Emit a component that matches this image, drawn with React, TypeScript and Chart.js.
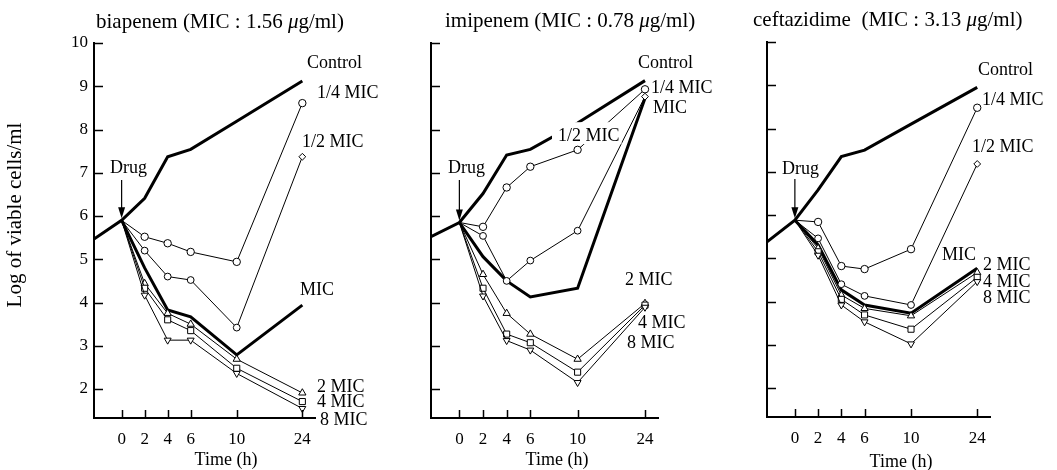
import { useEffect, useRef } from 'react';
import { Chart, registerables } from 'chart.js';
Chart.register(...registerables);

const SERIF = '"Liberation Serif", "Times New Roman", serif';

// ---- shared axis data ----
const sampleTimes = [0, 2, 4, 6, 10, 24];
const timeLabels = ['0', '2', '4', '6', '10', '24'];
const preDrugTime = -2.4;
const xMaxPos = 16.8;
const yTickValues = [2, 3, 4, 5, 6, 7, 8, 9, 10];
const yMin = 1.33;
const yMax = 10;

// axis is linear up to 10 h; the 10 -> 24 h interval is compressed
function axisPos(t: number): number {
  return t <= 10 ? t : 10 + ((t - 10) * 5.7) / 14;
}

// ---- biapenem ----
const biaControlPre = 5.47;
const biaControl = [5.9, 6.41, 7.37, 7.54, 8.19, 9.12];
const biaQuarter = [5.9, 5.52, 5.37, 5.17, 4.94, 8.61];
const biaHalf = [5.9, 5.2, 4.6, 4.52, 3.42, 7.37];
const biaMic = [5.9, 4.8, 3.83, 3.67, 2.79, 3.94];
const biaMic2 = [5.9, 4.44, 3.75, 3.5, 2.69, 1.91];
const biaMic4 = [5.9, 4.33, 3.6, 3.35, 2.48, 1.71];
const biaMic8 = [5.9, 4.17, 3.13, 3.13, 2.36, 1.55];

// ---- imipenem ----
const imiControlPre = 5.52;
const imiControl = [5.85, 6.52, 7.41, 7.54, 8.15, 9.13];
const imiQuarter = [5.85, 5.75, 6.66, 7.14, 7.53, 8.93];
const imiHalf = [5.85, 5.54, 4.5, 4.97, 5.66, 8.76];
const imiMic = [5.85, 5.06, 4.5, 4.13, 4.33, 8.72];
const imiMic2 = [5.85, 4.65, 3.75, 3.27, 2.69, 3.98];
const imiMic4 = [5.85, 4.33, 3.27, 3.07, 2.39, 3.94];
const imiMic8 = [5.85, 4.15, 3.12, 2.9, 2.15, 3.89];

// ---- ceftazidime ----
const cefControlPre = 5.38;
const cefControl = [5.88, 6.58, 7.35, 7.5, 8.1, 8.95];
const cefQuarter = [5.88, 5.84, 4.82, 4.75, 5.21, 8.48];
const cefHalf = [5.88, 5.46, 4.4, 4.13, 3.92, 7.18];
const cefMic = [5.88, 5.31, 4.27, 3.92, 3.73, 4.77];
const cefMic2 = [5.88, 5.23, 4.15, 3.84, 3.67, 4.67];
const cefMic4 = [5.88, 5.15, 4.05, 3.69, 3.36, 4.56];
const cefMic8 = [5.88, 5.07, 3.92, 3.53, 3.02, 4.46];

type Label = { text: string; t: number; v: number; bg?: boolean };

type Panel = {
  title: [string, string, string];
  canvasLeft: number;
  canvasWidth: number;
  area: { left: number; right: number; top: number; bottom: number };
  titleX: number;
  titleBaseline: number;
  xTitleT: number;
  xTitleBaseline: number;
  showYLabels: boolean;
  controlPre: number;
  control: number[];
  quarter: number[];
  half: number[];
  mic: number[];
  mic2: number[];
  mic4: number[];
  mic8: number[];
  labels: Label[];
};

const CANVAS_H = 470;

const panels: Panel[] = [
  {
    title: ['biapenem (MIC : 1.56 ', 'μ', 'g/ml)'],
    canvasLeft: 0,
    canvasWidth: 400,
    area: { left: 94, right: 315, top: 43, bottom: 418 },
    titleX: 96,
    titleBaseline: 28,
    xTitleT: 9.07,
    xTitleBaseline: 465,
    showYLabels: true,
    controlPre: biaControlPre,
    control: biaControl,
    quarter: biaQuarter,
    half: biaHalf,
    mic: biaMic,
    mic2: biaMic2,
    mic4: biaMic4,
    mic8: biaMic8,
    labels: [
      { text: 'Control', t: 16.11, v: 9.42 },
      { text: '1/4 MIC', t: 16.98, v: 8.73 },
      { text: '1/2 MIC', t: 15.67, v: 7.6 },
      { text: 'MIC', t: 15.5, v: 4.17 },
      { text: '2 MIC', t: 16.98, v: 1.93 },
      { text: '4 MIC', t: 16.98, v: 1.58 },
      { text: '8 MIC', t: 17.24, v: 1.17 },
      { text: 'Drug', t: -1.01, v: 6.99 },
    ],
  },
  {
    title: ['imipenem (MIC : 0.78 ', 'μ', 'g/ml)'],
    canvasLeft: 370,
    canvasWidth: 350,
    area: { left: 61, right: 288, top: 43, bottom: 418 },
    titleX: 75,
    titleBaseline: 27,
    xTitleT: 8.26,
    xTitleBaseline: 465,
    showYLabels: false,
    controlPre: imiControlPre,
    control: imiControl,
    quarter: imiQuarter,
    half: imiHalf,
    mic: imiMic,
    mic2: imiMic2,
    mic4: imiMic4,
    mic8: imiMic8,
    labels: [
      { text: 'Control', t: 15.11, v: 9.42 },
      { text: '1/4 MIC', t: 16.21, v: 8.84 },
      { text: 'MIC', t: 16.38, v: 8.38 },
      { text: '1/2 MIC', t: 8.34, v: 7.73, bg: true },
      { text: '2 MIC', t: 14.01, v: 4.41 },
      { text: '4 MIC', t: 15.11, v: 3.42 },
      { text: '8 MIC', t: 14.18, v: 2.95 },
      { text: 'Drug', t: -0.96, v: 6.99 },
    ],
  },
  {
    title: ['ceftazidime  (MIC : 3.13 ', 'μ', 'g/ml)'],
    canvasLeft: 720,
    canvasWidth: 337,
    area: { left: 47, right: 270, top: 42, bottom: 417 },
    titleX: 33,
    titleBaseline: 26,
    xTitleT: 9.14,
    xTitleBaseline: 467,
    showYLabels: false,
    controlPre: cefControlPre,
    control: cefControl,
    quarter: cefQuarter,
    half: cefHalf,
    mic: cefMic,
    mic2: cefMic2,
    mic4: cefMic4,
    mic8: cefMic8,
    labels: [
      { text: 'Control', t: 15.77, v: 9.23 },
      { text: '1/4 MIC', t: 16.12, v: 8.54 },
      { text: '1/2 MIC', t: 15.25, v: 7.45 },
      { text: 'MIC', t: 12.67, v: 4.96 },
      { text: '2 MIC', t: 16.2, v: 4.73 },
      { text: '4 MIC', t: 16.2, v: 4.34 },
      { text: '8 MIC', t: 16.2, v: 3.97 },
      { text: 'Drug', t: -1.11, v: 6.94 },
    ],
  },
];

function toPoints(vals: number[]) {
  return sampleTimes.map((t, i) => ({ x: axisPos(t), y: vals[i] }));
}

function markerRadii(r: number) {
  return sampleTimes.map((_, i) => (i === 0 ? 0 : r));
}

function buildDatasets(p: Panel): any[] {
  const base = {
    borderColor: '#000',
    pointBorderColor: '#000',
    pointBackgroundColor: '#fff',
    pointBorderWidth: 1,
    tension: 0,
    fill: false,
  };
  return [
    {
      ...base,
      label: '8 MIC',
      data: toPoints(p.mic8),
      borderWidth: 1,
      pointStyle: 'triangle',
      rotation: 180,
      pointRadius: markerRadii(4),
    },
    {
      ...base,
      label: '4 MIC',
      data: toPoints(p.mic4),
      borderWidth: 1,
      pointStyle: 'rect',
      pointRadius: markerRadii(4.3),
    },
    {
      ...base,
      label: '2 MIC',
      data: toPoints(p.mic2),
      borderWidth: 1,
      pointStyle: 'triangle',
      pointRadius: markerRadii(4.2),
    },
    {
      ...base,
      label: '1/2 MIC',
      data: toPoints(p.half),
      borderWidth: 1,
      pointStyle: sampleTimes.map((_, i) => (i === sampleTimes.length - 1 ? 'rectRot' : 'circle')),
      pointRadius: markerRadii(3.4),
    },
    {
      ...base,
      label: '1/4 MIC',
      data: toPoints(p.quarter),
      borderWidth: 1,
      pointStyle: 'circle',
      pointRadius: markerRadii(3.7),
    },
    {
      ...base,
      label: 'MIC',
      data: toPoints(p.mic),
      borderWidth: 3,
      pointRadius: 0,
    },
    {
      ...base,
      label: 'Control',
      data: [{ x: preDrugTime, y: p.controlPre }, ...toPoints(p.control)],
      borderWidth: 3,
      pointRadius: 0,
    },
  ];
}

function makeOverlay(p: Panel) {
  return {
    id: 'overlay',
    afterDraw(chart: any) {
      const ctx: CanvasRenderingContext2D = chart.ctx;
      const xs = chart.scales.x;
      const ys = chart.scales.y;
      const area = chart.chartArea;
      ctx.save();
      ctx.fillStyle = '#000';
      ctx.strokeStyle = '#000';

      // inward tick marks
      ctx.lineWidth = 1.5;
      ctx.beginPath();
      sampleTimes.forEach((t) => {
        const x = Math.round(xs.getPixelForValue(axisPos(t))) + 0.5;
        ctx.moveTo(x, area.bottom);
        ctx.lineTo(x, area.bottom - 8);
      });
      yTickValues.forEach((v) => {
        const y = Math.round(ys.getPixelForValue(v)) + 0.5;
        ctx.moveTo(area.left, y);
        ctx.lineTo(area.left + 9, y);
      });
      ctx.stroke();

      // labels
      ctx.font = `18px ${SERIF}`;
      ctx.textAlign = 'left';
      ctx.textBaseline = 'alphabetic';
      p.labels.forEach((l) => {
        const x = xs.getPixelForValue(l.t);
        const y = ys.getPixelForValue(l.v);
        if (l.bg) {
          const m = ctx.measureText(l.text);
          ctx.fillStyle = '#fff';
          ctx.fillRect(x - 6, y - m.actualBoundingBoxAscent - 6, m.width + 8, m.actualBoundingBoxAscent + 9);
          ctx.fillStyle = '#000';
        }
        ctx.fillText(l.text, x, y);
      });

      // drug arrow
      const ax = xs.getPixelForValue(0);
      const aTop = ys.getPixelForValue(6.83);
      const aTip = ys.getPixelForValue(p.control[0]) - 2;
      ctx.lineWidth = 1.2;
      ctx.beginPath();
      ctx.moveTo(ax, aTop);
      ctx.lineTo(ax, aTip - 9);
      ctx.stroke();
      ctx.beginPath();
      ctx.moveTo(ax - 3.5, aTip - 11);
      ctx.lineTo(ax + 3.5, aTip - 11);
      ctx.lineTo(ax, aTip);
      ctx.closePath();
      ctx.fill();

      // panel title with italic mu
      ctx.textBaseline = 'alphabetic';
      let tx = p.titleX;
      const [a, mu, b] = p.title;
      ctx.font = `21px ${SERIF}`;
      ctx.fillText(a, tx, p.titleBaseline);
      tx += ctx.measureText(a).width;
      ctx.font = `italic 21px ${SERIF}`;
      ctx.fillText(mu, tx, p.titleBaseline);
      tx += ctx.measureText(mu).width;
      ctx.font = `21px ${SERIF}`;
      ctx.fillText(b, tx, p.titleBaseline);

      // x axis title
      ctx.font = `18px ${SERIF}`;
      ctx.textAlign = 'center';
      ctx.fillText('Time (h)', xs.getPixelForValue(p.xTitleT), p.xTitleBaseline);

      // y axis title (first panel only)
      if (p.showYLabels) {
        ctx.translate(15, 215);
        ctx.rotate(-Math.PI / 2);
        ctx.font = `21px ${SERIF}`;
        ctx.textAlign = 'center';
        ctx.textBaseline = 'middle';
        ctx.fillText('Log of viable cells/ml', 0, 0);
      }
      ctx.restore();
    },
  };
}

function PanelChart({ p }: { p: Panel }) {
  const ref = useRef<HTMLCanvasElement | null>(null);
  useEffect(() => {
    if (!ref.current) return;
    const chart = new Chart(ref.current, {
      type: 'line',
      data: { datasets: buildDatasets(p) },
      options: {
        responsive: false,
        animation: false,
        events: [],
        layout: {
          padding: {
            left: 0,
            top: p.area.top,
            right: p.canvasWidth - p.area.right,
            bottom: 0,
          },
        },
        plugins: {
          legend: { display: false },
          title: { display: false },
          tooltip: { enabled: false },
        },
        scales: {
          x: {
            type: 'linear',
            min: preDrugTime,
            max: xMaxPos,
            afterBuildTicks: (scale: any) => {
              scale.ticks = sampleTimes.map((t) => ({ value: axisPos(t) }));
            },
            afterFit: (scale: any) => {
              scale.height = CANVAS_H - p.area.bottom;
            },
            grid: { display: false, drawTicks: false },
            border: { display: true, color: '#000', width: 2 },
            ticks: {
              autoSkip: false,
              maxRotation: 0,
              padding: 11,
              color: '#000',
              font: { family: SERIF, size: 17 },
              callback: (_v: any, i: number) => timeLabels[i],
            },
          },
          y: {
            type: 'linear',
            min: yMin,
            max: yMax,
            afterBuildTicks: (scale: any) => {
              scale.ticks = yTickValues.map((v) => ({ value: v }));
            },
            afterFit: (scale: any) => {
              scale.width = p.area.left;
            },
            grid: { display: false, drawTicks: false },
            border: { display: true, color: '#000', width: 2 },
            ticks: {
              display: p.showYLabels,
              padding: 6,
              color: '#000',
              font: { family: SERIF, size: 17 },
              callback: (v: any) => String(v),
            },
          },
        },
      } as any,
      plugins: [makeOverlay(p)],
    });
    return () => chart.destroy();
  }, [p]);
  return (
    <canvas
      ref={ref}
      width={p.canvasWidth}
      height={CANVAS_H}
      style={{ position: 'absolute', left: p.canvasLeft, top: 0, width: p.canvasWidth, height: CANVAS_H }}
    />
  );
}

export default function App() {
  return (
    <div style={{ position: 'absolute', left: 0, top: 0, width: 1057, height: 470, background: '#fff', overflow: 'hidden' }}>
      {panels.map((p, i) => (
        <PanelChart key={i} p={p} />
      ))}
    </div>
  );
}
